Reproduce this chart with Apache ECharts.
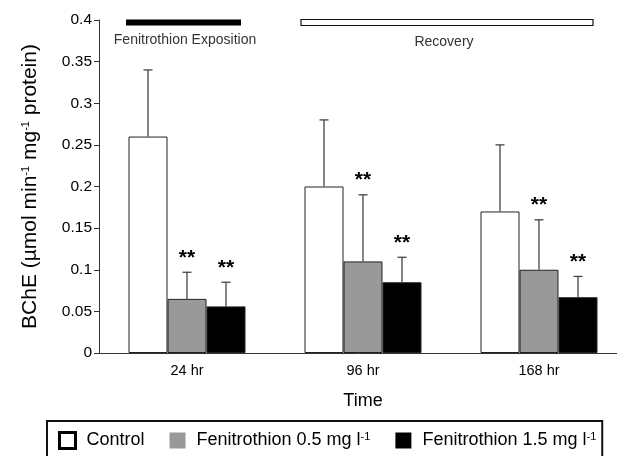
<!DOCTYPE html>
<html>
<head>
<meta charset="utf-8">
<script src="https://cdn.jsdelivr.net/npm/echarts@6/dist/echarts.min.js"></script>
<style>html,body{margin:0;padding:0;background:#fff;}#c{width:617px;height:456px;}</style>
</head>
<body>
<div id="c"></div>
<script>
const categories = ['24 hr', '96 hr', '168 hr'];
const seriesNames = ['Control', 'Fenitrothion 0.5', 'Fenitrothion 1.5'];
const legendLabels = ['Control', 'Fenitrothion 0.5 mg l{s|-1}', 'Fenitrothion 1.5 mg l{s|-1}'];
const controlMean = [0.26, 0.20, 0.17];
const controlUpper = [0.34, 0.28, 0.25];
const low05Mean = [0.065, 0.11, 0.10];
const low05Upper = [0.097, 0.19, 0.16];
const high15Mean = [0.056, 0.085, 0.067];
const high15Upper = [0.085, 0.115, 0.092];
const controlSig = ['', '', ''];
const low05Sig = ['**', '**', '**'];
const high15Sig = ['**', '**', '**'];
const yMin = 0, yMax = 0.4, yInterval = 0.05;
const periodLabels = ['Fenitrothion Exposition', 'Recovery'];

const SANS = '"Liberation Sans",Arial,sans-serif';
const BAR_W = 39;
const fills = ['#ffffff', '#999999', '#000000'];

const means = [controlMean, low05Mean, high15Mean];
const uppers = [controlUpper, low05Upper, high15Upper];
const sigs = [controlSig, low05Sig, high15Sig];

const chart = echarts.init(document.getElementById('c'), null, {renderer: 'canvas'});

const series = [];
seriesNames.forEach((n, i) => {
  series.push({
    name: n, type: 'bar', barWidth: BAR_W, barGap: '0%',
    data: means[i],
    itemStyle: {color: fills[i], borderColor: '#222', borderWidth: 1},
    silent: true
  });
});
seriesNames.forEach((n, i) => {
  const offset = (i - 1) * BAR_W;
  series.push({
    type: 'custom', silent: true, z: 5,
    data: categories.map((c, k) => [k, means[i][k], uppers[i][k], sigs[i][k]]),
    encode: {x: 0, y: 2},
    renderItem: function (params, api) {
      const k = api.value(0);
      const b = api.coord([k, api.value(1)]);
      const t = api.coord([k, api.value(2)]);
      const x = b[0] + offset;
      const sig = sigs[i][k];
      const lineStyle = {stroke: '#444', lineWidth: 1.3};
      const children = [
        {type: 'line', shape: {x1: x, y1: b[1], x2: x, y2: t[1]}, style: lineStyle},
        {type: 'line', shape: {x1: x - 4.5, y1: t[1], x2: x + 4.5, y2: t[1]}, style: lineStyle}
      ];
      if (sig) {
        children.push({type: 'text', x: x, y: t[1] - 4,
          style: {text: sig, fill: '#000', font: 'bold 21px ' + SANS, textAlign: 'center', textVerticalAlign: 'bottom'}});
      }
      return {type: 'group', children: children};
    }
  });
});

chart.setOption({
  animation: false,
  backgroundColor: '#fff',
  grid: {left: 99, top: 20, width: 528, height: 333, containLabel: false, outerBoundsMode: 'none'},
  xAxis: {
    type: 'category', data: categories,
    axisLine: {lineStyle: {color: '#333', width: 1}},
    axisTick: {show: false},
    axisLabel: {color: '#000', fontFamily: SANS, fontSize: 14.5, margin: 10},
    name: 'Time', nameLocation: 'middle', nameGap: 39,
    nameTextStyle: {color: '#000', fontFamily: SANS, fontSize: 18}
  },
  yAxis: {
    type: 'value', min: yMin, max: yMax, interval: yInterval,
    splitLine: {show: false},
    axisLine: {show: true, lineStyle: {color: '#333', width: 1}},
    axisTick: {show: true, length: 5, lineStyle: {color: '#333'}},
    axisLabel: {color: '#000', fontFamily: SANS, fontSize: 15.5, margin: 7},
    name: 'BChE (µmol min{s|-1} mg{s|-1} protein)', nameLocation: 'middle', nameGap: 58, nameRotate: 90,
    nameTextStyle: {color: '#000', fontFamily: SANS, fontSize: 21,
      rich: {s: {fontSize: 11, fontFamily: SANS, color: '#000', verticalAlign: 'top', lineHeight: 21}}}
  },
  legend: {
    left: 47, top: 421,
    orient: 'horizontal',
    itemWidth: 16, itemHeight: 16, itemGap: 25,
    padding: [10, 6, 12, 11],
    borderColor: '#111', borderWidth: 2,
    selectedMode: false,
    icon: 'rect',
    data: seriesNames.map((n, i) => ({name: n, itemStyle: {color: fills[i], borderColor: '#000', borderWidth: i === 0 ? 3 : 0}})),
    formatter: function (name) { return legendLabels[seriesNames.indexOf(name)]; },
    textStyle: {color: '#000', fontFamily: SANS, fontSize: 18, padding: [0, 0, 0, 6],
      rich: {s: {fontSize: 11, fontFamily: SANS, color: '#000', verticalAlign: 'top', lineHeight: 18}}}
  },
  graphic: [
    {type: 'rect', shape: {x: 126, y: 19.5, width: 115, height: 6}, style: {fill: '#000'}, silent: true},
    {type: 'rect', shape: {x: 301, y: 19.5, width: 292, height: 6}, style: {fill: '#fff', stroke: '#111', lineWidth: 1.2}, silent: true},
    {type: 'text', x: 185, y: 40, style: {text: periodLabels[0], fill: '#333', font: '14px ' + SANS, textAlign: 'center', textVerticalAlign: 'middle'}, silent: true},
    {type: 'text', x: 444, y: 42, style: {text: periodLabels[1], fill: '#333', font: '14px ' + SANS, textAlign: 'center', textVerticalAlign: 'middle'}, silent: true}
  ],
  series: series
});
</script>
</body>
</html>
